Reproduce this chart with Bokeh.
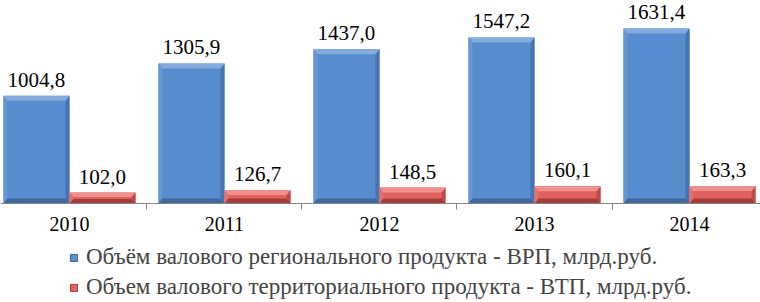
from bokeh.plotting import figure
from bokeh.models import ColumnDataSource, FixedTicker, Legend, LegendItem, Range1d
from bokeh.layouts import column
from bokeh.embed import file_html
from bokeh.resources import INLINE
from bokeh.core.properties import value

years = ["2010", "2011", "2012", "2013", "2014"]
vrp = [1004.8, 1305.9, 1437.0, 1547.2, 1631.4]
vtp = [102.0, 126.7, 148.5, 160.1, 163.3]
vrp_labels = ["1004,8", "1305,9", "1437,0", "1547,2", "1631,4"]
vtp_labels = ["102,0", "126,7", "148,5", "160,1", "163,3"]
series_names = ["Объём валового регионального продукта - ВРП, млрд.руб.",
                "Объем валового территориального продукта - ВТП, млрд.руб."]
blue_cols = ["#578CCE", "#82ABDF", "#6896D3", "#4774B0", "#3E689E"]
red_cols = ["#E0625F", "#F0908D", "#E2706D", "#BC4A47", "#A23D3A"]

FONT = "Liberation Serif"
W = 760
TOP_H = 240
FRAME_H = 203
x_start, x_end = -0.445, 4.458
y_end = 1892.0
px_x = W / (x_end - x_start)
px_y = FRAME_H / y_end

p = figure(width=W, height=TOP_H, output_backend="svg", toolbar_location=None,
           x_range=Range1d(x_start, x_end), y_range=Range1d(0, y_end),
           min_border_left=0, min_border_right=0, min_border_top=0,
           min_border_bottom=TOP_H - FRAME_H)
p.outline_line_color = None
p.background_fill_color = "white"
p.border_fill_color = "white"
p.xgrid.visible = False
p.ygrid.visible = False
p.yaxis.visible = False

bw = 0.426
xs = list(range(len(years)))


def bevel_bars(centers, vals, cols):
    face, top_c, left_c, right_c, bot_c = cols
    src = ColumnDataSource(dict(x=centers, top=vals))
    p.vbar(x="x", top="top", width=bw, bottom=0, source=src,
           fill_color=face, line_color=None)
    bx = 4.0 / px_x
    by = 5.0 / px_y
    tops_x, tops_y, bots_x, bots_y, lx, ly, rx, ry = [], [], [], [], [], [], [], []
    for c, v in zip(centers, vals):
        L, R, T, B = c - bw / 2, c + bw / 2, v, 0
        byy = min(by, (T - B) / 2.5)
        tops_x.append([L, R, R - bx, L + bx]); tops_y.append([T, T, T - byy, T - byy])
        bots_x.append([L, R, R - bx, L + bx]); bots_y.append([B, B, B + byy, B + byy])
        lx.append([L, L, L + bx, L + bx]); ly.append([B, T, T - byy, B + byy])
        rx.append([R, R, R - bx, R - bx]); ry.append([B, T, T - byy, B + byy])
    p.patches(lx, ly, fill_color=left_c, line_color=None)
    p.patches(rx, ry, fill_color=right_c, line_color=None)
    p.patches(tops_x, tops_y, fill_color=top_c, line_color=None)
    p.patches(bots_x, bots_y, fill_color=bot_c, line_color=None)


c_blue = [x - bw / 2 for x in xs]
c_red = [x + bw / 2 for x in xs]
bevel_bars(c_blue, vrp, blue_cols)
bevel_bars(c_red, vtp, red_cols)

p.text(x=c_blue, y=vrp, text=vrp_labels, text_align="center", text_baseline="bottom",
       y_offset=-9, text_font=value(FONT), text_font_size="21px", text_color="black")
p.text(x=c_red, y=vtp, text=vtp_labels, text_align="center", text_baseline="bottom",
       y_offset=-9, text_font=value(FONT), text_font_size="21px", text_color="black")

ax = p.xaxis[0]
ax.ticker = FixedTicker(ticks=xs, minor_ticks=[i + 0.5 for i in xs[:-1]])
ax.major_label_overrides = {i: y for i, y in enumerate(years)}
ax.major_tick_out = 0
ax.major_tick_in = 0
ax.minor_tick_out = 6
ax.minor_tick_in = 0
ax.minor_tick_line_color = "#868686"
ax.axis_line_color = "#868686"
ax.major_label_standoff = 7
ax.major_label_text_font = FONT
ax.major_label_text_font_size = "20px"
ax.major_label_text_color = "black"

# legend figure
LEG_H = 62
p2 = figure(width=W, height=LEG_H, output_backend="svg", toolbar_location=None,
            x_range=Range1d(0, 1), y_range=Range1d(0, 1),
            min_border_left=0, min_border_right=0, min_border_top=0, min_border_bottom=0)
p2.axis.visible = False
p2.grid.visible = False
p2.outline_line_color = None
p2.background_fill_color = "white"
p2.border_fill_color = "white"
lr1 = p2.rect(x=[-10], y=[-10], width=1, height=1, fill_color=blue_cols[0], line_color=blue_cols[4])
lr2 = p2.rect(x=[-10], y=[-10], width=1, height=1, fill_color=red_cols[0], line_color=red_cols[4])
legend = Legend(items=[LegendItem(label=series_names[0], renderers=[lr1]),
                       LegendItem(label=series_names[1], renderers=[lr2])],
                orientation="vertical",
                label_text_font=FONT, label_text_font_size="23px",
                glyph_width=9, glyph_height=9, label_standoff=8,
                spacing=4, padding=0, margin=0, border_line_color=None,
                background_fill_alpha=0)
legend.location = (69, 2)
p2.add_layout(legend, "center")

layout = column(p, p2, spacing=0)
open("out.html", "w").write(file_html(layout, INLINE))
